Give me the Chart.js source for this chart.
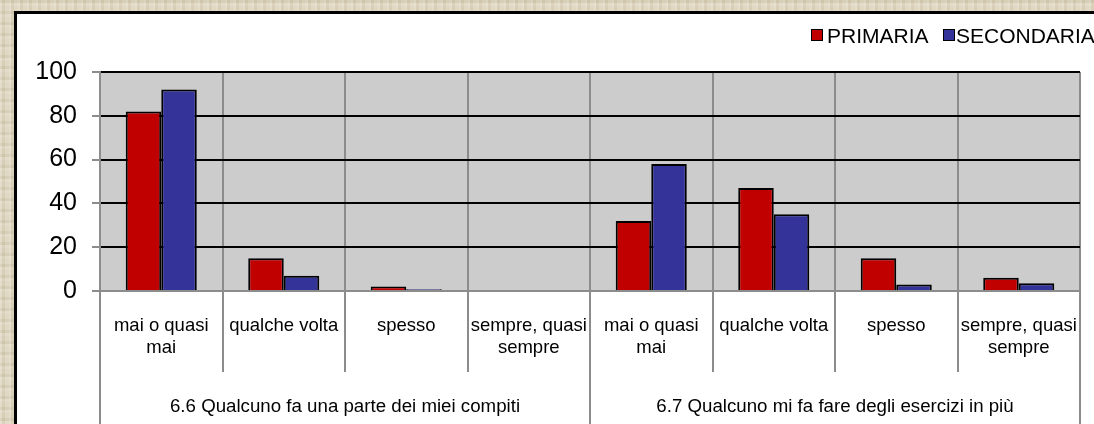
<!DOCTYPE html>
<html>
<head>
<meta charset="utf-8">
<script src="https://cdn.jsdelivr.net/npm/chart.js@4/dist/chart.umd.min.js"></script>
<style>
  html, body { margin: 0; padding: 0; width: 1094px; height: 424px; overflow: hidden; }
  body {
    position: relative;
    background-color: #dcd3bc;
    background-image:
      repeating-linear-gradient(90deg, rgba(255,255,255,0.18) 0 2px, rgba(110,90,50,0.05) 2px 5px, rgba(255,255,255,0.08) 5px 9px),
      repeating-linear-gradient(0deg, rgba(255,255,255,0.14) 0 3px, rgba(110,90,50,0.07) 3px 6px, rgba(255,255,255,0.05) 6px 11px);
    font-family: "Liberation Sans", Arial, sans-serif;
  }
  #box { position: absolute; left: 14px; top: 11px; width: 2000px; height: 2000px; border: 3px solid #000; background: #fff; }
  #c { position: absolute; left: 0; top: 0; }
  .lg-box { position: absolute; width: 12px; height: 12px; box-sizing: border-box; border: 1px solid #000; }
  .lg-txt { position: absolute; font-size: 21px; line-height: 21px; white-space: nowrap; color: #000; }
</style>
</head>
<body>
<div id="box"></div>
<canvas id="c" width="1094" height="424"></canvas>
<div id="legend"></div>
<script>
// ---- data ----
const categories = [
  ['mai o quasi', 'mai'], 'qualche volta', 'spesso', ['sempre, quasi', 'sempre'],
  ['mai o quasi', 'mai'], 'qualche volta', 'spesso', ['sempre, quasi', 'sempre']
];
const groups = ['6.6 Qualcuno fa una parte dei miei compiti', '6.7 Qualcuno mi fa fare degli esercizi in più'];
const seriesNames = ['PRIMARIA', 'SECONDARIA'];
const primaria = [82, 15, 2, 0, 32, 47, 15, 6];
const secondaria = [92, 7, 0.8, 0, 58, 35, 3, 3.5];
const yTicks = [0, 20, 40, 60, 80, 100];

const colors = ['#c00000', '#333399'];
const FONT = '"Liberation Sans", Arial, sans-serif';

const plotBg = {
  id: 'plotBg',
  beforeDraw(chart) {
    const a = chart.chartArea, ctx = chart.ctx;
    ctx.save();
    ctx.fillStyle = '#cccccc';
    ctx.fillRect(a.left, a.top, a.right - a.left, a.bottom - a.top);
    ctx.restore();
  }
};

const chart = new Chart(document.getElementById('c'), {
  type: 'bar',
  data: {
    labels: categories,
    datasets: [
      { label: seriesNames[0], data: primaria, backgroundColor: colors[0], borderColor: '#000', borderWidth: 2 },
      { label: seriesNames[1], data: secondaria, backgroundColor: colors[1], borderColor: '#000', borderWidth: 2 }
    ]
  },
  options: {
    responsive: false,
    animation: false,
    devicePixelRatio: 1,
    layout: { padding: { left: 0, right: 14, top: 72, bottom: 0 } },
    datasets: { bar: { categoryPercentage: 0.58, barPercentage: 1 } },
    plugins: { legend: { display: false }, tooltip: { enabled: false } },
    scales: {
      x: {
        type: 'category',
        position: 'bottom',
        offset: true,
        grid: { offset: true, color: '#8c8c8c', lineWidth: 2, tickColor: '#8c8c8c', tickLength: 81, drawOnChartArea: true },
        border: { display: true, color: '#8c8c8c', width: 2 },
        ticks: { color: '#000', font: { family: FONT, size: 18.5, lineHeight: 1.2 }, padding: -57, maxRotation: 0, autoSkip: false },
        afterFit(s) { s.height = 81; }
      },
      x2: {
        type: 'category',
        position: 'bottom',
        labels: groups,
        offset: true,
        grid: { offset: true, color: '#8c8c8c', lineWidth: 2, tickColor: '#8c8c8c', tickLength: 60, drawOnChartArea: false },
        border: { display: false },
        ticks: { color: '#000', font: { family: FONT, size: 18.7, lineHeight: 1.2 }, padding: -36.5, maxRotation: 0, autoSkip: false },
        afterFit(s) { s.height = 52; }
      },
      y: {
        min: 0, max: 100,
        afterBuildTicks(s) { s.ticks = yTicks.map(v => ({ value: v })); },
        grid: { color: '#000', lineWidth: 2, tickColor: '#8c8c8c', tickLength: 8 },
        border: { display: true, color: '#8c8c8c', width: 2 },
        ticks: { color: '#000', font: { family: FONT, size: 25 }, padding: 15 },
        afterFit(s) { s.width = 100; }
      }
    }
  },
  plugins: [plotBg]
});

// HTML legend built from the chart's datasets
const lg = document.getElementById('legend');
const legendPos = [{ box: 811, txt: 827 }, { box: 943, txt: 956 }];
chart.data.datasets.forEach((ds, i) => {
  const b = document.createElement('div');
  b.className = 'lg-box';
  b.style.left = legendPos[i].box + 'px';
  b.style.top = '29px';
  b.style.background = ds.backgroundColor;
  lg.appendChild(b);
  const t = document.createElement('div');
  t.className = 'lg-txt';
  t.style.left = legendPos[i].txt + 'px';
  t.style.top = '25px';
  t.textContent = ds.label;
  lg.appendChild(t);
});
</script>
</body>
</html>
